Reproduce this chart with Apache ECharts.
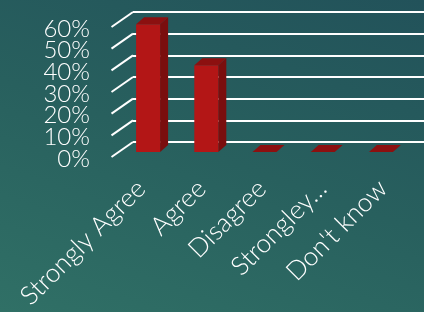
<!DOCTYPE html>
<html>
<head>
<meta charset="utf-8">
<script src="https://cdn.jsdelivr.net/npm/echarts@6/dist/echarts.min.js"></script>
<style>
html, body { margin: 0; padding: 0; }
#chart {
    width: 424px;
    height: 312px;
    background: linear-gradient(200deg, #22525a 0%, #28605e 50%, #307066 100%);
}
</style>
</head>
<body>
<div id="chart"></div>
<script>
// 数据
var categories = ['Strongly Agree', 'Agree', 'Disagree', 'Strongley…', "Don't know"];
var values = [59, 40, 0, 0, 0];
var ticks = [0, 10, 20, 30, 40, 50, 60];

var FONT = 'Lato';

// 伪3D柱子：正面 + 侧面 + 顶面
function renderBar(params, api) {
    var top = api.coord([api.value(0), api.value(1)]);
    var base = api.coord([api.value(0), 0]);
    var left = top[0] - 26, right = top[0] - 2;
    var yTop = top[1] + 10, yBot = base[1] + 10;
    var dx = 8, dy = -7;
    return {
        type: 'group',
        children: [
            {
                type: 'polygon',
                shape: { points: [[right, yTop], [right + dx, yTop + dy], [right + dx, yBot + dy], [right, yBot]] },
                style: { fill: '#7a0e0e' }
            },
            {
                type: 'rect',
                shape: { x: left, y: yTop, width: right - left, height: yBot - yTop },
                style: { fill: '#b31616' }
            },
            {
                type: 'polygon',
                shape: { points: [[left, yTop], [left + dx, yTop + dy], [right + dx, yTop + dy], [right, yTop]] },
                style: { fill: '#8c1010' }
            }
        ]
    };
}

// 网格线左侧的斜线 + 刻度文字（标签会重叠，所以自己画）
function renderTick(params, api) {
    var p = api.coord([0, api.value(0)]);
    var x0 = params.coordSys.x;
    return {
        type: 'group',
        children: [
            {
                type: 'line',
                shape: { x1: x0 - 21.5, y1: p[1] + 15, x2: x0, y2: p[1] },
                style: { stroke: '#ffffff', lineWidth: 2 }
            },
            {
                type: 'text',
                x: x0 - 43, y: p[1] + 17,
                style: {
                    text: api.value(0) + '%', fill: '#ffffff',
                    font: '300 24px ' + FONT, align: 'right', verticalAlign: 'middle'
                }
            }
        ]
    };
}

var chart = echarts.init(document.getElementById('chart'));
chart.setOption({
    animation: false,
    grid: [
        { left: 133, right: -11, top: 12, bottom: 170 },
        { left: 111, right: 11, top: 30, bottom: 154 }
    ],
    xAxis: [
        {
            gridIndex: 0, type: 'category', data: categories,
            axisLine: { show: false }, axisTick: { show: false }, axisLabel: { show: false }
        },
        {
            gridIndex: 1, type: 'category', data: categories,
            axisLine: { show: false }, axisTick: { show: false },
            axisLabel: {
                rotate: 45, margin: 28, color: '#ffffff',
                fontSize: 26, fontWeight: 300, fontFamily: FONT, interval: 0
            }
        }
    ],
    yAxis: [
        {
            gridIndex: 0, type: 'value', min: 0, max: 60, interval: 10,
            axisLine: { show: false }, axisTick: { show: false }, axisLabel: { show: false },
            splitLine: { lineStyle: { color: '#ffffff', width: 2 } }
        },
        {
            gridIndex: 1, type: 'value', min: 0, max: 60, interval: 10, show: false
        }
    ],
    series: [
        {
            type: 'custom', xAxisIndex: 0, yAxisIndex: 0, clip: false,
            renderItem: renderTick,
            data: ticks.map(function (t) { return [t]; })
        },
        {
            type: 'custom', xAxisIndex: 0, yAxisIndex: 0, clip: false,
            renderItem: renderBar,
            data: values.map(function (v, i) { return [i, v]; })
        }
    ]
});
</script>
</body>
</html>
